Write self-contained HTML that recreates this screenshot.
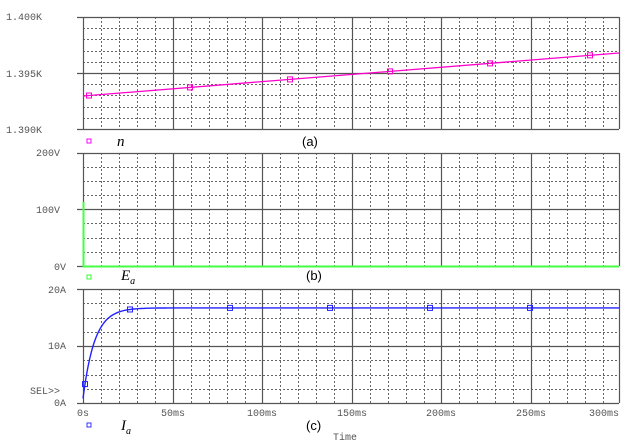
<!DOCTYPE html>
<html><head><style>
html,body{margin:0;padding:0;background:#fff;}
svg{display:block;}
.lab{font-family:"Liberation Mono",monospace;font-size:10px;fill:#555;}
.ser{font-family:"Liberation Serif",serif;font-style:italic;font-size:15px;fill:#000;}
.cap{font-family:"Liberation Sans",sans-serif;font-size:13px;fill:#000;}
</style></head><body>
<svg width="631" height="446" viewBox="0 0 631 446" xmlns="http://www.w3.org/2000/svg">
<g id="grids"></g>
<text class="lab" x="42" y="20" text-anchor="end">1.400K</text>
<text class="lab" x="42" y="77" text-anchor="end">1.395K</text>
<text class="lab" x="42" y="133" text-anchor="end">1.390K</text>
<text class="lab" x="60" y="156" text-anchor="end">200V</text>
<text class="lab" x="60" y="213" text-anchor="end">100V</text>
<text class="lab" x="66" y="270" text-anchor="end">0V</text>
<text class="lab" x="66" y="293" text-anchor="end">20A</text>
<text class="lab" x="66" y="349" text-anchor="end">10A</text>
<text class="lab" x="60" y="394" text-anchor="end">SEL&gt;&gt;</text>
<text class="lab" x="66" y="406" text-anchor="end">0A</text>
<text class="lab" x="83" y="416" text-anchor="middle">0s</text>
<text class="lab" x="173" y="416" text-anchor="middle">50ms</text>
<text class="lab" x="262" y="416" text-anchor="middle">100ms</text>
<text class="lab" x="352" y="416" text-anchor="middle">150ms</text>
<text class="lab" x="441" y="416" text-anchor="middle">200ms</text>
<text class="lab" x="531" y="416" text-anchor="middle">250ms</text>
<text class="lab" x="604" y="416" text-anchor="middle">300ms</text>
<text class="lab" x="345" y="440" text-anchor="middle">Time</text>
<rect x="87" y="139" width="4" height="4" fill="none" stroke="#f0f" stroke-width="1"/>
<text class="ser" x="117" y="146">n</text>
<text class="cap" x="302" y="146">(a)</text>
<rect x="87" y="275" width="4" height="4" fill="none" stroke="#3f3" stroke-width="1"/>
<text class="ser" x="121" y="280">E<tspan font-size="10" dy="4">a</tspan></text>
<text class="cap" x="306" y="280">(b)</text>
<rect x="87" y="423" width="4" height="4" fill="none" stroke="#33f" stroke-width="1"/>
<text class="ser" x="121" y="430">I<tspan font-size="10" dy="4">a</tspan></text>
<text class="cap" x="306" y="430">(c)</text>
<g id="data"></g>
</svg>
<script>
const NS="http://www.w3.org/2000/svg";
const g=document.getElementById('grids'), d=document.getElementById('data');
function el(p,t,a){const e=document.createElementNS(NS,t);for(const k in a)e.setAttribute(k,a[k]);p.appendChild(e);return e;}
const L=83,R=619,majX=[83,173,262,352,441,531];
function panel(top,mid,bot,n){
  const st={stroke:'#666','stroke-width':1,'stroke-dasharray':'2,2'};
  for(let i=0;i<majX.length;i++){for(let k=1;k<5;k++){const x=Math.round(majX[i]+k*17.9)+0.5;if(x<R)el(g,'line',Object.assign({x1:x,y1:top,x2:x,y2:bot},st));}}
  for(const [a,b] of [[top,mid],[mid,bot]]){for(let k=1;k<n;k++){const y=Math.round(a+k*(b-a)/n)+0.5;el(g,'line',Object.assign({x1:L,y1:y,x2:R,y2:y},st));}}
  const s={stroke:'#555','stroke-width':1.2};
  for(const x of majX)el(g,'line',Object.assign({x1:x+0.5,y1:top,x2:x+0.5,y2:bot},s));
  for(const y of [top,mid,bot])el(g,'line',Object.assign({x1:L-6,y1:y+0.5,x2:R,y2:y+0.5},s));
  el(g,'line',Object.assign({x1:R+0.5,y1:top,x2:R+0.5,y2:bot},s));
}
panel(17,73,129,5);panel(153,209,266,4);panel(289,346,403,4);
el(d,'line',{x1:83,y1:96,x2:619,y2:53,stroke:'#f0c','stroke-width':1.3});
for(const x of [89,190,290,390,490,590]){const y=96-(x-83)*0.0802;el(d,'rect',{x:x-2.5,y:y-2.5,width:5,height:5,fill:'none',stroke:'#f0c','stroke-width':1});}
el(d,'polyline',{points:'83.5,202 83.5,266.5 619,266.5',fill:'none',stroke:'#4f4','stroke-width':2});
let pts=[];const I=t=>16.4-15.6*Math.exp(-t/6.5);
for(let x=83;x<=619;x+=1){const t=(x-83)/1.79;pts.push(x+','+(403-I(t)*5.8).toFixed(1));}
el(d,'polyline',{points:pts.join(' '),fill:'none',stroke:'#22f','stroke-width':1.4});
for(const x of [85,130,230,330,430,530]){const t=(x-83)/1.79;const y=403-I(t)*5.8;el(d,'rect',{x:x-2.5,y:y-2.5,width:5,height:5,fill:'none',stroke:'#22f','stroke-width':1});}
</script>
</body></html>
